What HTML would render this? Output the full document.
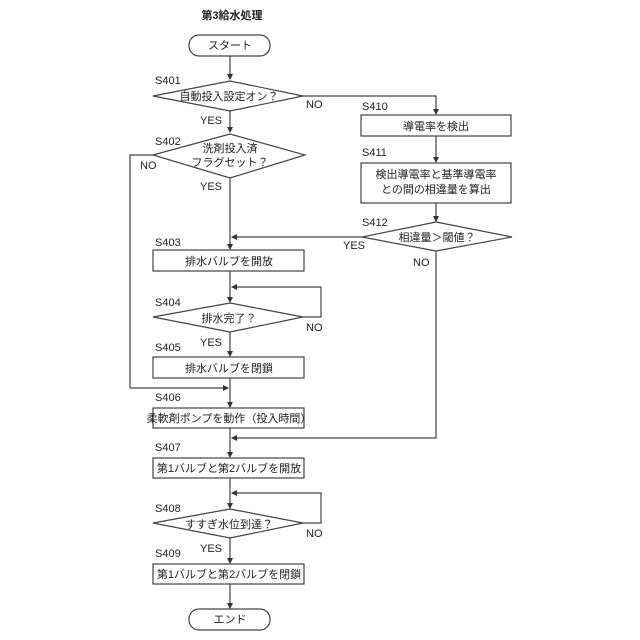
<!DOCTYPE html>
<html><head><meta charset="utf-8"><style>
html,body{margin:0;padding:0;background:#fff;width:640px;height:640px;overflow:hidden}
svg{display:block}
text{font-family:"Liberation Sans","Noto Sans CJK JP",sans-serif;font-size:11px;fill:#222}
.c{text-anchor:middle}
</style></head><body>
<svg width="640" height="640" viewBox="0 0 640 640" xmlns="http://www.w3.org/2000/svg">
<defs><marker id="a" markerWidth="6" markerHeight="6" refX="5" refY="3" orient="auto" markerUnits="userSpaceOnUse"><path d="M0,0 L6,3 L0,6 z" fill="#333"/></marker></defs>
<g stroke="#444" stroke-width="1.2" fill="none">
<text x="232" y="19" class="c" style="font-weight:bold" stroke="none">第3給水処理</text>
<rect x="189" y="35" width="81" height="21" rx="10" fill="#fff"/>
<!-- main vertical -->
<line x1="230" y1="56" x2="230" y2="79" marker-end="url(#a)"/>
<polygon points="153,96 230,81 303,96 230,111" fill="#fff"/>
<line x1="230" y1="111" x2="230" y2="132" marker-end="url(#a)"/>
<polygon points="153,155 230,134 305,155 230,178" fill="#fff"/>
<line x1="230" y1="178" x2="230" y2="249" marker-end="url(#a)"/>
<rect x="153" y="250" width="151" height="21" fill="#fff"/>
<line x1="230" y1="271" x2="230" y2="302" marker-end="url(#a)"/>
<polyline points="303,317 321,317 321,287 232,287" marker-end="url(#a)"/>
<polygon points="153,317 230,303 303,317 230,332" fill="#fff"/>
<line x1="230" y1="332" x2="230" y2="356" marker-end="url(#a)"/>
<rect x="153" y="357" width="151" height="21" fill="#fff"/>
<line x1="230" y1="378" x2="230" y2="407" marker-end="url(#a)"/>
<polyline points="153,155 130,155 130,388 228,388" marker-end="url(#a)"/>
<rect x="153" y="408" width="151" height="20" fill="#fff"/>
<line x1="230" y1="428" x2="230" y2="457" marker-end="url(#a)"/>
<polyline points="436,251 436,438 232,438" marker-end="url(#a)"/>
<rect x="153" y="458" width="151" height="20" fill="#fff"/>
<line x1="230" y1="478" x2="230" y2="508" marker-end="url(#a)"/>
<polyline points="303,523 321,523 321,493 232,493" marker-end="url(#a)"/>
<polygon points="153,523 230,509 303,523 230,538" fill="#fff"/>
<line x1="230" y1="538" x2="230" y2="563" marker-end="url(#a)"/>
<rect x="153" y="564" width="151" height="20" fill="#fff"/>
<line x1="230" y1="584" x2="230" y2="608" marker-end="url(#a)"/>
<rect x="189" y="609" width="81" height="21" rx="10" fill="#fff"/>
<!-- right branch -->
<polyline points="303,96 436,96 436,114" marker-end="url(#a)"/>
<rect x="361" y="115" width="150" height="21" fill="#fff"/>
<line x1="436" y1="136" x2="436" y2="162" marker-end="url(#a)"/>
<rect x="361" y="163" width="150" height="40" fill="#fff"/>
<line x1="436" y1="203" x2="436" y2="221" marker-end="url(#a)"/>
<polygon points="362,237 436,222 512,237 436,251" fill="#fff"/>
<line x1="362" y1="237" x2="232" y2="237" marker-end="url(#a)"/>
</g>
<text x="230" y="49" class="c">スタート</text>
<text x="155" y="84">S401</text>
<text x="229" y="100" class="c">自動投入設定オン？</text>
<text x="306" y="108">NO</text>
<text x="200" y="124">YES</text>
<text x="155" y="145">S402</text>
<text x="230" y="152" class="c">洗剤投入済</text>
<text x="230" y="166" class="c">フラグセット？</text>
<text x="140" y="169">NO</text>
<text x="200" y="190">YES</text>
<text x="362" y="110">S410</text>
<text x="436" y="130" class="c">導電率を検出</text>
<text x="362" y="156">S411</text>
<text x="436" y="178" class="c">検出導電率と基準導電率</text>
<text x="436" y="193" class="c">との間の相違量を算出</text>
<text x="362" y="226">S412</text>
<text x="437" y="241" class="c">相違量＞閾値？</text>
<text x="343" y="249">YES</text>
<text x="413" y="266">NO</text>
<text x="155" y="246">S403</text>
<text x="229" y="265" class="c">排水バルブを開放</text>
<text x="155" y="306">S404</text>
<text x="229" y="322" class="c">排水完了？</text>
<text x="306" y="331">NO</text>
<text x="200" y="346">YES</text>
<text x="155" y="351">S405</text>
<text x="229" y="372" class="c">排水バルブを閉鎖</text>
<text x="155" y="401">S406</text>
<text x="229" y="422" class="c">柔軟剤ポンプを動作（投入時間）</text>
<text x="155" y="451">S407</text>
<text x="229" y="472" class="c">第1バルブと第2バルブを開放</text>
<text x="155" y="512">S408</text>
<text x="229" y="528" class="c">すすぎ水位到達？</text>
<text x="306" y="537">NO</text>
<text x="200" y="552">YES</text>
<text x="155" y="557">S409</text>
<text x="229" y="578" class="c">第1バルブと第2バルブを閉鎖</text>
<text x="230" y="623" class="c">エンド</text>
</svg>
</body></html>
